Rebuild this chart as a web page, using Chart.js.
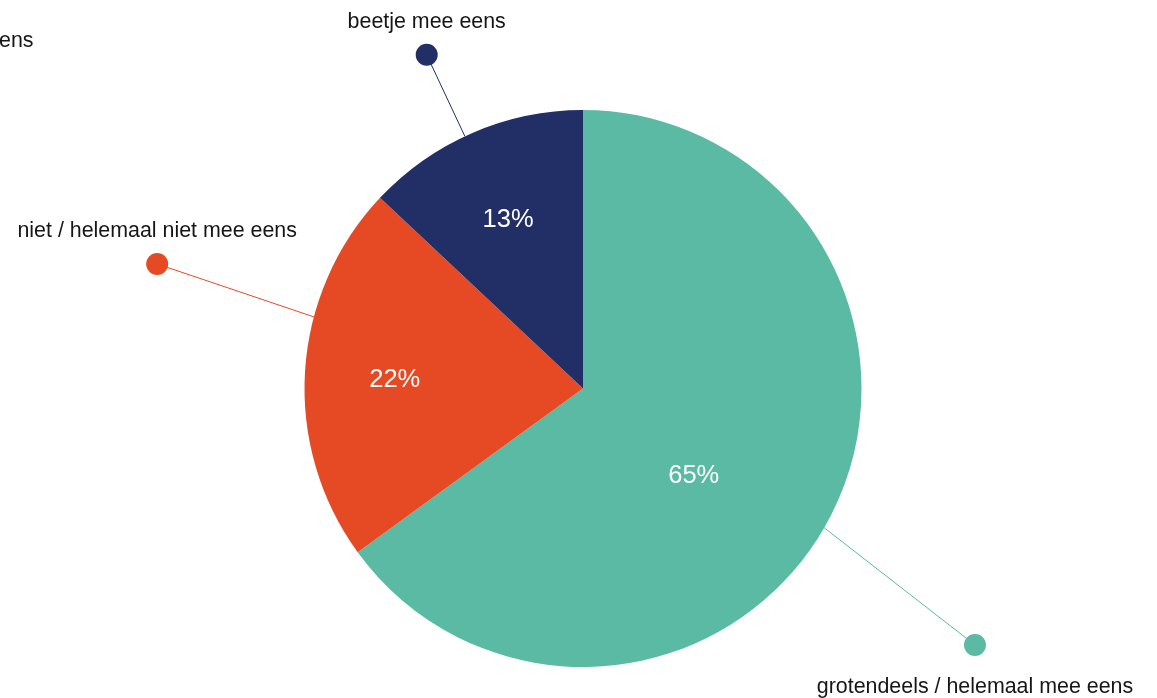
<!DOCTYPE html>
<html>
<head>
<meta charset="utf-8">
<script src="https://cdn.jsdelivr.net/npm/chart.js@4"></script>
<style>
  html, body { margin: 0; padding: 0; background: #ffffff; }
  #wrap { width: 1157px; height: 698px; position: relative; }
</style>
</head>
<body>
<div id="wrap"><canvas id="c"></canvas></div>
<script>
// ---- data ----
const categories = ['grotendeels / helemaal mee eens', 'niet / helemaal niet mee eens', 'beetje mee eens'];
const values = [65, 22, 13];
const percentLabels = ['65%', '22%', '13%'];
const clippedLabelText = 'ens';

// ---- style ----
const colors = ['#5ABAA4', '#E64A25', '#222F66'];
// per-slice label layout (angle offsets in degrees from slice mid-angle, radii in units of pie radius)
const labelLayout = [
  { edgeOff: 3.0,  dotOff: 6.2,  dotR: 1.682, pctOff: 10.6, pctR: 0.502, below: true },
  { edgeOff: 11.3, dotOff: 12.7, dotR: 1.593, pctOff: -0.5, pctR: 0.677, below: false },
  { edgeOff: -1.7, dotOff: -1.7, dotR: 1.323, pctOff: -0.3, pctR: 0.669, below: false }
];
const FONT = '"Liberation Sans", Arial, Helvetica, sans-serif';

const calloutPlugin = {
  id: 'callouts',
  afterDatasetsDraw(chart) {
    const ctx = chart.ctx;
    const meta = chart.getDatasetMeta(0);
    const D = Math.PI / 180;
    meta.data.forEach((arc, i) => {
      const L = labelLayout[i];
      const cx = arc.x, cy = arc.y, R = arc.outerRadius;
      const mid = (arc.startAngle + arc.endAngle) / 2;
      const pt = (off, r) => [cx + Math.cos(mid + off * D) * r, cy + Math.sin(mid + off * D) * r];
      const [ex, ey] = pt(L.edgeOff, R);
      const [dx, dy] = pt(L.dotOff, R * L.dotR);
      ctx.save();
      ctx.strokeStyle = colors[i];
      ctx.lineWidth = 1;
      ctx.beginPath();
      ctx.moveTo(ex, ey);
      ctx.lineTo(dx, dy);
      ctx.stroke();
      ctx.fillStyle = colors[i];
      ctx.beginPath();
      ctx.arc(dx, dy, 11, 0, Math.PI * 2);
      ctx.fill();
      // category label
      ctx.fillStyle = '#161616';
      ctx.font = '21.4px ' + FONT;
      ctx.textAlign = 'center';
      ctx.textBaseline = 'alphabetic';
      ctx.fillText(categories[i], dx, L.below ? dy + 48 : dy - 27);
      // percentage
      const [px, py] = pt(L.pctOff, R * L.pctR);
      ctx.fillStyle = '#ffffff';
      ctx.font = '25.5px ' + FONT;
      ctx.fillText(percentLabels[i], px, py + 9);
      ctx.restore();
    });
    // clipped label at top-left edge
    ctx.save();
    ctx.fillStyle = '#161616';
    ctx.font = '21.4px ' + FONT;
    ctx.textAlign = 'right';
    ctx.textBaseline = 'alphabetic';
    ctx.fillText(clippedLabelText, 33.5, 47);
    ctx.restore();
  }
};

new Chart(document.getElementById('c'), {
  type: 'pie',
  data: {
    labels: categories,
    datasets: [{
      data: values,
      backgroundColor: colors,
      borderWidth: 0,
      hoverOffset: 0
    }]
  },
  options: {
    responsive: true,
    maintainAspectRatio: false,
    animation: false,
    layout: { padding: { top: 110, bottom: 31, left: 304, right: 295 } },
    plugins: { legend: { display: false }, tooltip: { enabled: false } }
  },
  plugins: [calloutPlugin]
});
</script>
</body>
</html>
